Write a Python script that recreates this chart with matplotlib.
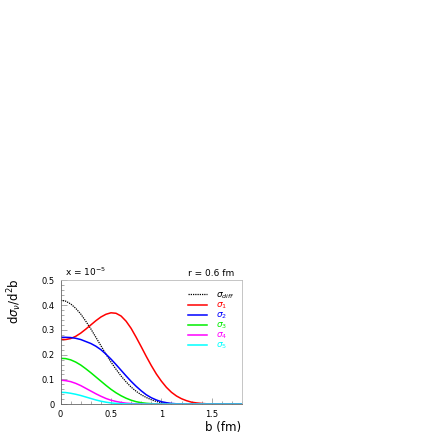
import numpy as np
import matplotlib
matplotlib.use('Agg')
import matplotlib.pyplot as plt
from matplotlib.ticker import MultipleLocator, FuncFormatter

# impact parameter grid (fm)
b = [0.0, 0.05, 0.1, 0.15, 0.2, 0.25, 0.3, 0.35, 0.4, 0.45, 0.5, 0.55, 0.6,
     0.65, 0.7, 0.75, 0.8, 0.85, 0.9, 0.95, 1.0, 1.05, 1.1, 1.15, 1.2, 1.25,
     1.3, 1.35, 1.4, 1.45, 1.5, 1.6, 1.7, 1.8]

sig_diff = [0.420, 0.416, 0.405, 0.387, 0.364, 0.335, 0.304, 0.270, 0.236,
            0.202, 0.170, 0.141, 0.114, 0.090, 0.069, 0.052, 0.038, 0.027,
            0.018, 0.011, 0.006, 0.003, 0.001, 0.0005, 0.0002, 0, 0, 0, 0,
            0, 0, 0, 0, 0]
sig_1 = [0.262, 0.261, 0.265, 0.274, 0.287, 0.303, 0.320, 0.337, 0.352,
         0.363, 0.369, 0.367, 0.356, 0.335, 0.306, 0.270, 0.232, 0.193,
         0.156, 0.122, 0.093, 0.068, 0.048, 0.033, 0.022, 0.014, 0.008,
         0.005, 0.003, 0.0015, 0.0008, 0.0002, 0, 0]
sig_2 = [0.270, 0.270, 0.269, 0.266, 0.261, 0.253, 0.245, 0.234, 0.220,
         0.202, 0.182, 0.160, 0.137, 0.114, 0.092, 0.072, 0.054, 0.038,
         0.026, 0.017, 0.010, 0.006, 0.003, 0.0015, 0.0007, 0.0003, 0.0001,
         0, 0, 0, 0, 0, 0, 0]
sig_3 = [0.185, 0.184, 0.179, 0.170, 0.158, 0.143, 0.127, 0.110, 0.093,
         0.076, 0.060, 0.046, 0.034, 0.024, 0.016, 0.010, 0.006, 0.0035,
         0.002, 0.001, 0.0005, 0, 0, 0, 0, 0, 0, 0, 0, 0, 0, 0, 0, 0]
sig_4 = [0.097, 0.095, 0.091, 0.084, 0.075, 0.064, 0.053, 0.042, 0.032,
         0.023, 0.016, 0.011, 0.007, 0.004, 0.0025, 0.0015, 0.0008, 0, 0,
         0, 0, 0, 0, 0, 0, 0, 0, 0, 0, 0, 0, 0, 0, 0]
sig_5 = [0.048, 0.047, 0.044, 0.040, 0.035, 0.029, 0.023, 0.017, 0.012,
         0.008, 0.005, 0.003, 0.0018, 0.001, 0.0005, 0, 0, 0, 0, 0, 0, 0,
         0, 0, 0, 0, 0, 0, 0, 0, 0, 0, 0, 0]

labels = [r'$\sigma_{diff}$', r'$\sigma_1$', r'$\sigma_2$', r'$\sigma_3$',
          r'$\sigma_4$', r'$\sigma_5$']
colors = ['black', '#ff0000', '#0000ff', '#00ee00', '#ff00ff', '#00ffff']

fig = plt.figure(figsize=(4.36, 4.36), dpi=100)
ax = fig.add_axes([0.139, 0.073, 0.416, 0.284])

series = [sig_diff, sig_1, sig_2, sig_3, sig_4, sig_5]
for i, s in enumerate(series):
    if i == 0:
        ax.plot(b, s, color=colors[i], lw=0.9, ls=(0, (1, 0.8)), label=labels[i])
    else:
        ax.plot(b, s, color=colors[i], lw=1.1, label=labels[i])

ax.set_xlim(0, 1.8)
ax.set_ylim(0, 0.5)
ax.xaxis.set_major_locator(MultipleLocator(0.5))
ax.xaxis.set_minor_locator(MultipleLocator(0.1))
ax.yaxis.set_major_locator(MultipleLocator(0.1))
ax.yaxis.set_minor_locator(MultipleLocator(0.02))
fmt = FuncFormatter(lambda v, p: '0' if abs(v) < 1e-9 else '%g' % v)
ax.xaxis.set_major_formatter(fmt)
ax.yaxis.set_major_formatter(fmt)
ax.tick_params(which='both', direction='in', top=False, right=False,
               labelsize=6, width=0.5, color='#888888')
ax.tick_params(which='major', length=4, pad=4)
ax.tick_params(which='minor', length=2)
for side in ['top', 'right']:
    ax.spines[side].set_color('#bbbbbb')
    ax.spines[side].set_linewidth(0.6)
for side in ['left', 'bottom']:
    ax.spines[side].set_color('#666666')
    ax.spines[side].set_linewidth(0.6)

ax.text(0.025, 1.015, r'x = 10$^{-5}$', transform=ax.transAxes, fontsize=6.5,
        ha='left', va='bottom')
ax.text(0.96, 1.015, 'r = 0.6 fm', transform=ax.transAxes, fontsize=6.5,
        ha='right', va='bottom')

ax.set_xlabel('b (fm)', fontsize=8.5)
ax.xaxis.set_label_coords(0.995, -0.135)
ax.xaxis.label.set_horizontalalignment('right')
ax.set_ylabel(r'd$\sigma_\nu$/d$^2$b', fontsize=8.5)
ax.yaxis.set_label_coords(-0.2, 0.83)

leg = ax.legend(loc='upper left', bbox_to_anchor=(0.665, 0.97), frameon=False,
                fontsize=6.5, labelcolor='linecolor', handlelength=2.2,
                handleheight=0.5, handletextpad=1.0, labelspacing=-0.05,
                borderpad=0.2)

fig.savefig('out.png', dpi=100)
